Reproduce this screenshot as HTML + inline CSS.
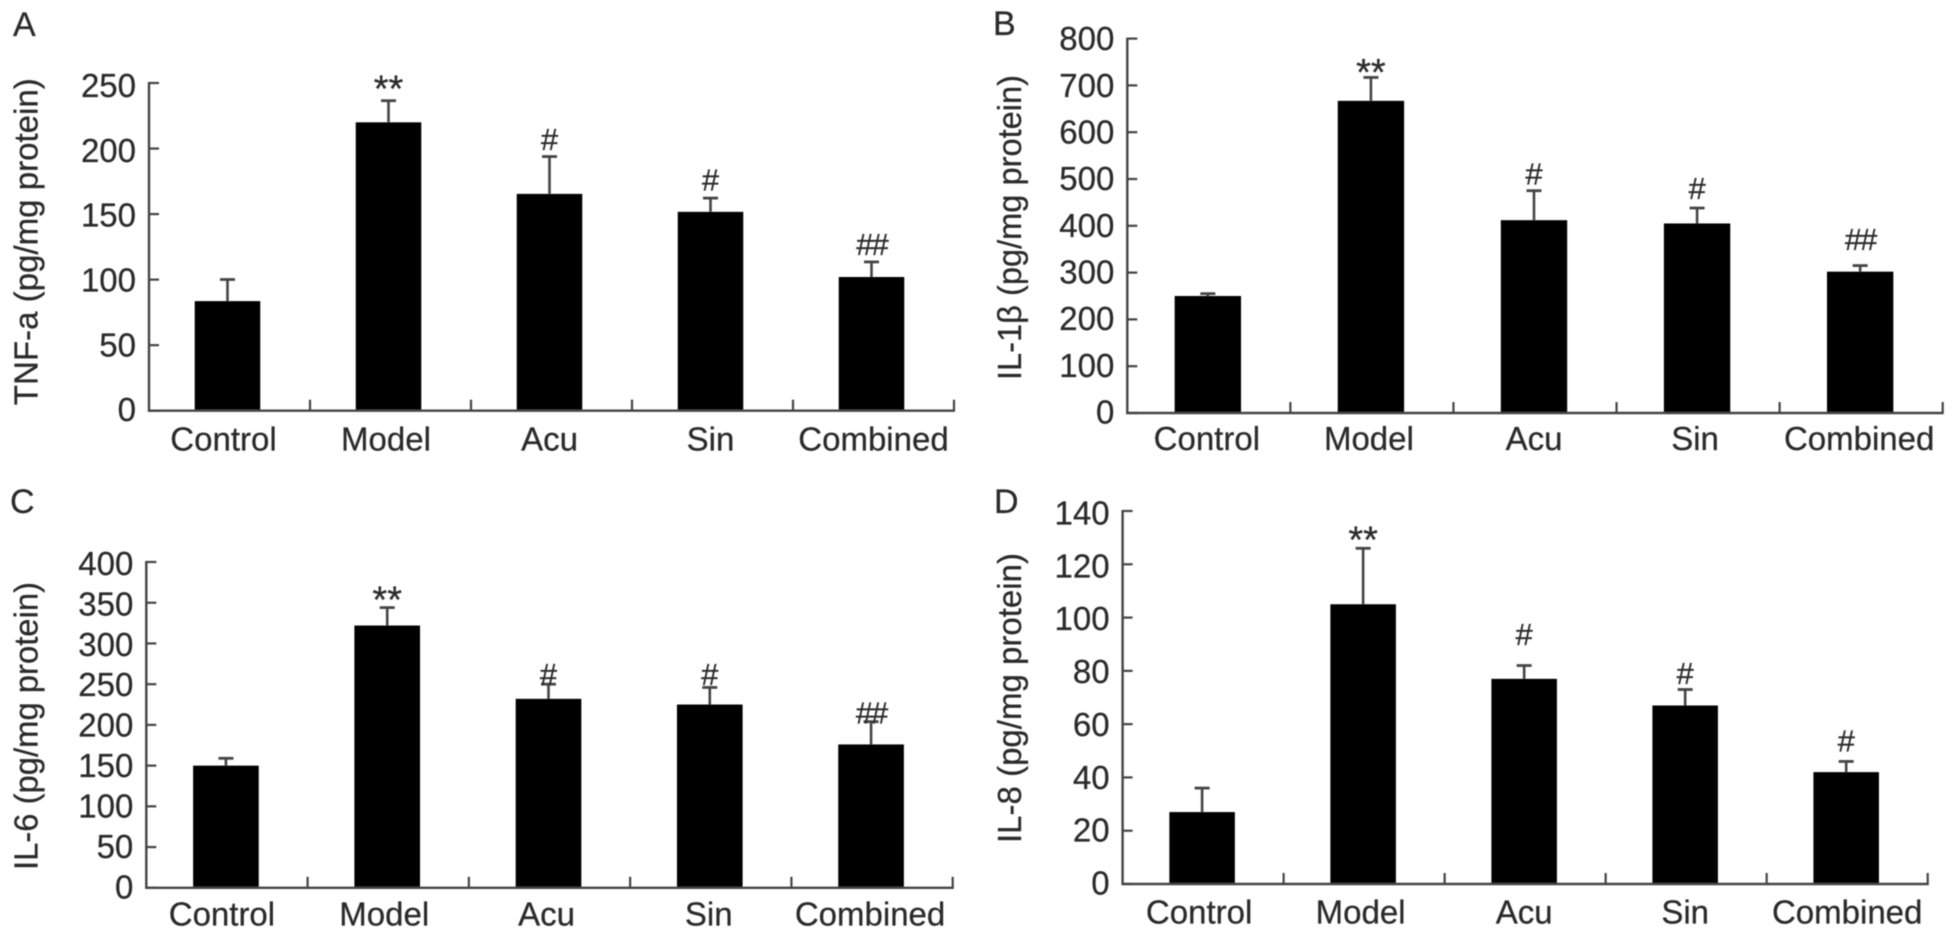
<!DOCTYPE html>
<html lang="en">
<head>
<meta charset="utf-8">
<title>Cytokine levels by treatment group</title>
<style>
  html, body { margin: 0; padding: 0; background: #fff; }
  svg { display: block; }
  text { font-family: "Liberation Sans", "DejaVu Sans", sans-serif; fill: #2a2a2a; stroke: #2a2a2a; stroke-width: 0.25; }
</style>
</head>
<body>
<svg id="figure" xmlns="http://www.w3.org/2000/svg" width="1957" height="939" viewBox="0 0 1957 939">
  <rect x="0" y="0" width="1957" height="939" fill="#fff"/>
  <defs><filter id="soft" x="-2%" y="-2%" width="104%" height="104%"><feGaussianBlur stdDeviation="0.6"/></filter></defs>
</svg>
<script>
const categories = ['Control', 'Model', 'Acu', 'Sin', 'Combined'];

const tnfValues = [83.6, 220, 165.4, 151.7, 102];
const tnfErrors = [16.5, 16.5, 28.5, 10.5, 11.5];
const tnfTicks = [0, 50, 100, 150, 200, 250];
const tnfMarks = ['', '**', '#', '#', '##'];
const tnfMarkLevels = [0, 236, 198.7, 168, 118.7];

const il1Values = [250, 667, 412, 405, 302];
const il1Errors = [5, 50, 63, 33, 13];
const il1Ticks = [0, 100, 200, 300, 400, 500, 600, 700, 800];
const il1Marks = ['', '**', '#', '#', '##'];
const il1MarkLevels = [0, 701, 488, 457, 348];

const il6Values = [150, 322, 232, 225, 176];
const il6Errors = [9, 22, 18, 21, 28];
const il6Ticks = [0, 50, 100, 150, 200, 250, 300, 350, 400];
const il6Marks = ['', '**', '#', '#', '##'];
const il6MarkLevels = [0, 338, 249, 249, 202];

const il8Values = [27, 105, 77, 67, 42];
const il8Errors = [9, 21, 5, 6, 4];
const il8Ticks = [0, 20, 40, 60, 80, 100, 120, 140];
const il8Marks = ['', '**', '#', '#', '#'];
const il8MarkLevels = [0, 124.5, 89.7, 75, 49.7];

const SVG_NS = 'http://www.w3.org/2000/svg';
const root = document.getElementById('figure');
const INK = '#444';

function shape(parent, tag) {
  const el = document.createElementNS(SVG_NS, tag);
  parent.appendChild(el);
  return el;
}
function setAll(el, props) {
  Object.keys(props).forEach(function (k) { el.setAttribute(k, props[k]); });
  return el;
}
function line(parent, x1, y1, x2, y2, w) {
  const el = shape(parent, 'line');
  return setAll(el, { x1: x1, y1: y1, x2: x2, y2: y2, stroke: INK, 'stroke-width': w });
}
function label(parent, x, y, str, size, anchor) {
  const el = shape(parent, 'text');
  setAll(el, { x: x, y: y, 'font-size': size, 'text-anchor': anchor });
  el.textContent = str;
  return el;
}

function drawPanel(cfg) {
  const g = shape(root, 'g');
  g.setAttribute('filter', 'url(#soft)');
  
  

  const maxTick = cfg.ticks[cfg.ticks.length - 1];
  const yScale = function (v) { return cfg.base - (v / maxTick) * (cfg.base - cfg.top); };
  const band = (cfg.right - cfg.left) / categories.length;
  const xCenter = function (i) { return cfg.left + band * (i + 0.5) + cfg.barShift; };
  const barWidth = band * 0.407;

  const letter = label(g, cfg.letterX, cfg.letterY, cfg.letter, 34, 'start');
  
  

  const title = label(g, 0, 0, cfg.title, 33, 'middle');
  title.setAttribute('transform', 'translate(' + cfg.titleX + ',' + cfg.titleY + ') rotate(-90)');
  title.setAttribute('textLength', cfg.titleLength);
  title.setAttribute('lengthAdjust', 'spacingAndGlyphs');
  
  

  categories.forEach(function (cat, i) {
    const cx = xCenter(i);
    const yTop = yScale(cfg.values[i]);
    const yErr = yScale(cfg.values[i] + cfg.errors[i]);

    const stem = line(g, cx, yTop, cx, yErr, 2.6);
    
    

    const cap = line(g, cx - 7.5, yErr, cx + 7.5, yErr, 2.8);
    
    

    const bar = shape(g, 'rect');
    setAll(bar, { x: cx - barWidth / 2, y: yTop, width: barWidth, height: cfg.base - yTop, fill: '#000' });
    
    

    const catLabel = label(g, cx + cfg.labelNudge[i], cfg.base + cfg.catGap, cat, 33, 'middle');
    
    

    if (cfg.marks[i]) {
      const size = cfg.marks[i] === '**' ? 38 : 31;
      const mark = label(g, cx, yScale(cfg.markLevels[i]), cfg.marks[i], size, 'middle');
      if (cfg.marks[i] === '##') {
        mark.setAttribute('letter-spacing', '-2');
      }
      
      
    }

    const xTick = line(g, cfg.left + band * (i + 1), cfg.base, cfg.left + band * (i + 1), cfg.base - 11, 2.2);
    
    
  });

  const yAxis = line(g, cfg.left, cfg.top - 1, cfg.left, cfg.base + 1, 2.4);
  
  

  const xAxis = line(g, cfg.left - 1, cfg.base, cfg.right + 1, cfg.base, 2.4);
  
  

  cfg.ticks.forEach(function (t) {
    const y = yScale(t);
    const tick = line(g, cfg.left, y, cfg.left + 10, y, 2.2);
    
    

    const drop = 10.5 + (t / maxTick) * cfg.labelDrift;
    const tickLabel = label(g, cfg.left - 13, y + drop, String(t), 33, 'end');
    
    
  });
}

drawPanel({
  id: 'a', letter: 'A', letterX: 13, letterY: 36,
  title: 'TNF-a (pg/mg protein)', titleX: 37.5, titleY: 241.7, titleLength: 327,
  left: 149, right: 954, top: 83, base: 410.7, catGap: 39.8, barShift: -2, labelDrift: 3.5,
  labelNudge: [-4, -2.5, 0, 0, 2],
  ticks: tnfTicks, values: tnfValues, errors: tnfErrors, marks: tnfMarks, markLevels: tnfMarkLevels
});
drawPanel({
  id: 'b', letter: 'B', letterX: 993, letterY: 35,
  title: 'IL-1\u03B2 (pg/mg protein)', titleX: 1021, titleY: 227.5, titleLength: 305,
  left: 1127.3, right: 1942.7, top: 38.6, base: 413, catGap: 37, barShift: -1, labelDrift: 1,
  labelNudge: [-1, -2, 0, -2, -1],
  ticks: il1Ticks, values: il1Values, errors: il1Errors, marks: il1Marks, markLevels: il1MarkLevels
});
drawPanel({
  id: 'c', letter: 'C', letterX: 10, letterY: 513,
  title: 'IL-6 (pg/mg protein)', titleX: 37.5, titleY: 726, titleLength: 288,
  left: 146.3, right: 952.7, top: 562, base: 887.8, catGap: 37.9, barShift: -1, labelDrift: 2.5,
  labelNudge: [-4, -3, -2, -1, -1],
  ticks: il6Ticks, values: il6Values, errors: il6Errors, marks: il6Marks, markLevels: il6MarkLevels
});
drawPanel({
  id: 'd', letter: 'D', letterX: 994, letterY: 513,
  title: 'IL-8 (pg/mg protein)', titleX: 1021, titleY: 698, titleLength: 290,
  left: 1122.6, right: 1927.7, top: 511, base: 884, catGap: 39.3, barShift: -1, labelDrift: 3,
  labelNudge: [-3, -2.5, 0, 0, 1],
  ticks: il8Ticks, values: il8Values, errors: il8Errors, marks: il8Marks, markLevels: il8MarkLevels
});
</script>
</body>
</html>
